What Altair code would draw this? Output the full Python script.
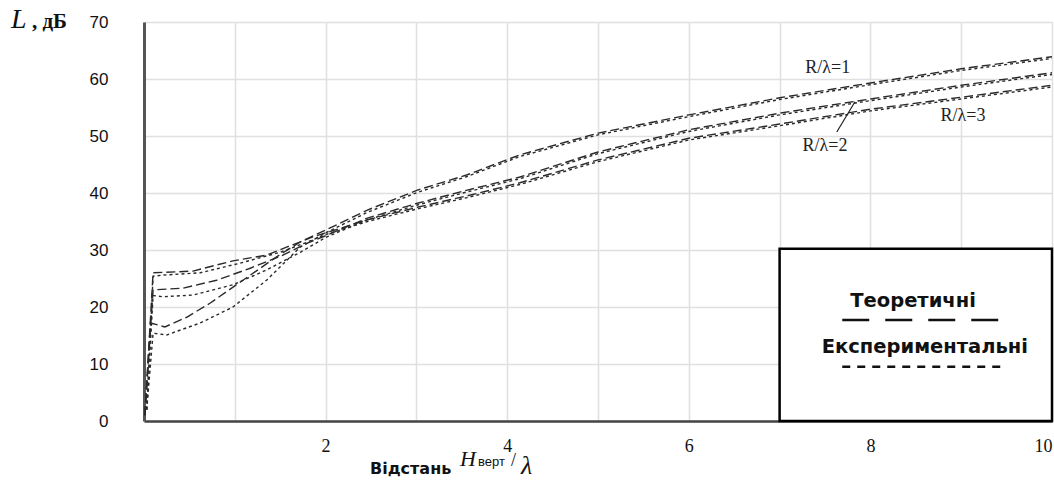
import altair as alt
import pandas as pd

# ---- data (x = H_верт/λ, y = L, дБ) ----
A_TH_X = [0.01, 0.07, 0.23, 0.47, 0.73, 1.09, 1.46, 1.72, 2.0, 2.46, 3.01, 3.56, 4.14, 5.0, 6.0, 7.0, 8.0, 9.0, 10.0]
A_TH_Y = [1.0, 17.2, 16.5, 18.2, 20.7, 24.7, 28.8, 31.4, 33.5, 37.0, 40.5, 43.2, 46.7, 50.5, 53.7, 56.7, 59.3, 61.8, 63.9]
B_TH_X = [0.01, 0.1, 0.43, 0.8, 1.17, 1.53, 1.8, 2.0, 2.46, 3.01, 3.56, 4.14, 5.0, 6.0, 7.0, 8.0, 9.0, 10.0]
B_TH_Y = [1.0, 23.0, 23.3, 24.7, 26.8, 29.1, 31.2, 32.5, 35.6, 38.2, 40.5, 42.8, 47.2, 51.1, 54.0, 56.5, 58.9, 61.1]
C_TH_X = [0.01, 0.1, 0.54, 0.98, 1.35, 1.57, 1.86, 2.0, 2.46, 3.01, 3.56, 4.14, 5.0, 6.0, 7.0, 8.0, 9.0, 10.0]
C_TH_Y = [1.0, 26.0, 26.3, 28.1, 29.1, 30.5, 32.3, 33.0, 35.3, 37.5, 39.5, 41.8, 45.8, 49.6, 52.1, 54.7, 56.8, 58.9]

A_EX_X = [0.03, 0.1, 0.25, 0.62, 0.98, 1.35, 1.72, 2.0, 2.46, 3.01, 3.56, 4.14, 5.0, 6.0, 7.0, 8.0, 9.0, 10.0]
A_EX_Y = [2.0, 15.4, 15.1, 17.2, 20.0, 24.7, 30.5, 33.0, 36.6, 40.1, 42.9, 46.4, 50.2, 53.4, 56.4, 59.0, 61.5, 63.6]
B_EX_X = [0.03, 0.1, 0.21, 0.54, 0.98, 1.35, 1.72, 2.0, 2.46, 3.01, 3.56, 4.14, 5.0, 6.0, 7.0, 8.0, 9.0, 10.0]
B_EX_Y = [2.0, 22.0, 21.8, 22.1, 23.9, 26.5, 29.6, 32.2, 35.3, 37.9, 40.2, 42.5, 46.9, 50.8, 53.7, 56.2, 58.6, 60.8]
C_EX_X = [0.03, 0.1, 0.21, 0.62, 1.06, 1.5, 1.8, 2.0, 2.46, 3.01, 3.56, 4.14, 5.0, 6.0, 7.0, 8.0, 9.0, 10.0]
C_EX_Y = [2.0, 25.4, 25.6, 26.0, 27.7, 29.6, 31.4, 32.7, 35.0, 37.2, 39.2, 41.5, 45.5, 49.3, 51.8, 54.4, 56.5, 58.6]

KINDS = ["Теоретичні", "Експериментальні"]
X_TICKS = [0, 1, 2, 3, 4, 5, 6, 7, 8, 9, 10]
Y_TICKS = [0, 10, 20, 30, 40, 50, 60, 70]

CURVE_LABELS = ["R/λ=1", "R/λ=2", "R/λ=3"]
CURVE_LABEL_X = [7.53, 7.5, 9.02]
CURVE_LABEL_Y = [61.9, 48.2, 53.5]

rows = []
for name, kind, xs_, ys_ in [
    ("R/λ=1", KINDS[0], A_TH_X, A_TH_Y), ("R/λ=2", KINDS[0], B_TH_X, B_TH_Y), ("R/λ=3", KINDS[0], C_TH_X, C_TH_Y),
    ("R/λ=1", KINDS[1], A_EX_X, A_EX_Y), ("R/λ=2", KINDS[1], B_EX_X, B_EX_Y), ("R/λ=3", KINDS[1], C_EX_X, C_EX_Y),
]:
    for i, (xv, yv) in enumerate(zip(xs_, ys_)):
        rows.append({"series": name + " " + kind, "kind": kind, "x": xv, "y": yv, "i": i})
df = pd.DataFrame(rows)

W, H = 908, 399
xs = alt.Scale(domain=[0, 10], nice=False, zero=False)
ys = alt.Scale(domain=[0, 70], nice=False)

x_axis = alt.Axis(values=X_TICKS, format="d",
                  labelExpr="datum.value % 2 == 0 && datum.value > 0 ? datum.label : ''",
                  grid=True, ticks=False, labelFlush=True, title=None,
                  labelFont="Liberation Serif", labelFontSize=18)
y_axis = alt.Axis(values=Y_TICKS, format="d", grid=True, ticks=False, title=None,
                  labelFont="Liberation Sans", labelFontSize=17)

def X(f="x:Q"):
    return alt.X(f, scale=xs)

def Y(f="y:Q"):
    return alt.Y(f, scale=ys)

lines = alt.Chart(df).mark_line(strokeWidth=1.4, color="#2a2a2a").encode(
    x=alt.X("x:Q", scale=xs, axis=x_axis),
    y=alt.Y("y:Q", scale=ys, axis=y_axis),
    detail="series:N",
    order="i:Q",
    strokeDash=alt.StrokeDash("kind:N", scale=alt.Scale(domain=KINDS, range=[[9, 4], [3, 3]]), legend=None),
)

# legend box
box_df = pd.DataFrame({"x": [7.0], "x2": [10.0], "y": [0.0], "y2": [30.2]})
box = alt.Chart(box_df).mark_rect(fill="white", stroke="black", strokeWidth=2.5).encode(
    x=X(), x2="x2", y=Y(), y2="y2")

leg_text_df = pd.DataFrame({"t": KINDS, "x": [8.47, 8.6], "y": [21.0, 13.0]})
leg_text = alt.Chart(leg_text_df).mark_text(font="DejaVu Sans", fontWeight="bold", fontSize=19.5,
                                            color="#111", align="center", baseline="middle").encode(
    x=X(), y=Y(), text="t:N")

leg_th = alt.Chart(pd.DataFrame({"x": [7.69], "x2": [9.46], "y": [17.7]})).mark_rule(
    color="#111", strokeWidth=2.5, strokeDash=[27, 16]).encode(x=X(), x2="x2", y=Y())
leg_ex = alt.Chart(pd.DataFrame({"x": [7.69], "x2": [9.43], "y": [9.5]})).mark_rule(
    color="#111", strokeWidth=2.5, strokeDash=[8, 7]).encode(x=X(), x2="x2", y=Y())

lab_df = pd.DataFrame({"t": CURVE_LABELS, "x": CURVE_LABEL_X, "y": CURVE_LABEL_Y})
labels = alt.Chart(lab_df).mark_text(font="Liberation Serif", fontSize=18, color="#222",
                                     align="center", baseline="middle").encode(
    x=X(), y=Y(), text="t:N")

pointer = alt.Chart(pd.DataFrame({"x": [7.63], "x2": [7.83], "y": [50.7], "y2": [56.0]})).mark_rule(
    color="#222", strokeWidth=1.2).encode(x=X(), x2="x2", y=Y(), y2="y2")

one = pd.DataFrame({"a": [0]})
def txt(text, x, y, **kw):
    return alt.Chart(one).mark_text(text=text, align="left", baseline="alphabetic", **kw).encode(
        x=alt.value(x), y=alt.value(y))

y_title_L = txt("L", -133, 6, font="Liberation Serif", fontStyle="italic", fontSize=28, color="#111")
y_title_u = txt(", дБ", -112, 6, font="Liberation Serif", fontWeight="bold", fontSize=21, color="#111")
x_t1 = txt("Відстань", 226, 452, font="DejaVu Sans", fontWeight="bold", fontSize=16, color="#111")
x_t2 = txt("H", 316, 444, font="Liberation Serif", fontStyle="italic", fontSize=22, color="#111")
x_t3 = txt("верт", 334, 444, font="Liberation Sans", fontSize=13, color="#111")
x_t4 = txt("/", 367, 444, font="Liberation Serif", fontSize=18, color="#111")
x_t5 = txt("λ", 377, 452, font="Liberation Serif", fontStyle="italic", fontSize=26, color="#111")

chart = alt.layer(lines, box, leg_text, leg_th, leg_ex, labels, pointer,
                  y_title_L, y_title_u, x_t1, x_t2, x_t3, x_t4, x_t5).properties(
    width=W, height=H,
    autosize=alt.AutoSizeParams(type="none"),
    padding={"left": 144, "top": 22, "right": 2, "bottom": 65},
).configure_view(stroke="#777", strokeWidth=2).configure(background="white").configure_axis(
    gridColor="#e0e0e0", gridWidth=1.5, labelColor="#111"
).configure_axisX(
    labelFont="Liberation Serif", labelFontSize=18, labelPadding=16,
    domainColor="#444", domainWidth=2.5,
).configure_axisY(
    labelFont="Liberation Sans", labelFontSize=17, labelPadding=36,
    domainColor="#555", domainWidth=3,
)

chart.save("out.html", embed_options={"renderer": "svg", "actions": False})
